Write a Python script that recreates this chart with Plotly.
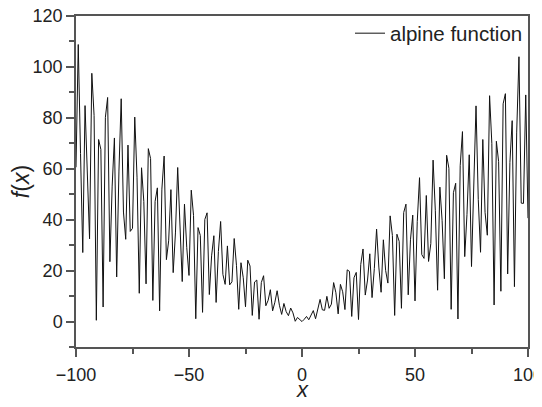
import plotly.graph_objects as go

# Sample grid (integer x from -100 to 100)
x_left = list(range(-100, 0))
x_right = list(range(0, 101))

# f(x), x = -100 .. -1
f_left = [60.6, 108.8, 66.0, 27.1, 84.8, 55.4, 32.5, 97.5, 80.9, 0.5,
          71.5, 67.6, 5.7, 80.2, 88.0, 23.5, 53.2, 72.1, 17.5, 59.1,
          87.5, 43.0, 32.3, 69.3, 35.4, 36.6, 80.3, 56.7, 11.1, 60.4,
          47.2, 14.8, 67.9, 64.0, 8.3, 47.2, 52.5, 4.2, 52.0, 65.0,
          24.3, 31.7, 51.8, 19.2, 34.8, 60.5, 35.6, 15.7, 46.1, 29.1,
          18.1, 51.6, 41.7, 1.1, 36.9, 33.8, 3.6, 40.1, 42.7, 10.6,
          25.8, 33.7, 7.5, 27.5, 39.3, 18.5, 14.6, 29.7, 14.4, 15.6,
          32.6, 22.1, 4.8, 23.1, 17.2, 5.8, 24.1, 21.8, 2.4, 15.5,
          16.3, 0.9, 15.3, 18.0, 6.2, 8.3, 12.5, 4.2, 7.6, 12.1,
          6.4, 2.8, 7.1, 3.9, 2.3, 5.3, 3.4, 0.1, 1.6, 0.7]

# f(x), x = 0 .. 100
f_right = [0.0, 0.9, 2.0, 0.7, 2.6, 4.3, 1.1, 5.3, 8.7, 4.6,
           4.4, 9.9, 5.2, 6.8, 15.3, 11.3, 3.0, 14.6, 11.7, 4.7,
           20.3, 19.7, 2.0, 17.2, 19.3, 0.8, 22.4, 28.5, 10.4, 16.3,
           26.6, 9.4, 20.8, 36.3, 21.4, 11.5, 32.1, 20.1, 15.1, 41.5,
           33.8, 2.4, 34.3, 31.5, 5.2, 42.8, 46.1, 10.5, 32.1, 41.8,
           8.1, 39.3, 56.5, 26.3, 24.8, 49.5, 23.6, 30.6, 63.4, 43.5,
           12.3, 52.8, 39.6, 16.8, 65.3, 60.2, 4.8, 50.6, 54.3, 1.0,
           61.2, 74.6, 25.5, 42.1, 65.5, 21.6, 50.6, 84.7, 47.9, 27.2,
           71.5, 42.9, 33.9, 88.7, 70.0, 6.5, 70.8, 62.8, 11.9, 85.5,
           89.5, 18.7, 62.5, 78.9, 13.7, 74.4, 104.0, 46.5, 46.4, 89.0,
           40.6]

x_vals = x_left + x_right
f_vals = f_left + f_right

x_ticks = [-100, -50, 0, 50, 100]
y_ticks = [0, 20, 40, 60, 80, 100, 120]

FONT = 'Liberation Sans, Arial, sans-serif'
AXIS_COLOR = '#555555'
TEXT_COLOR = '#222222'

fig = go.Figure()

fig.add_trace(go.Scatter(
    x=x_vals, y=f_vals,
    mode='lines',
    name='alpine function',
    line=dict(color='#111111', width=1),
))

axis_common = dict(
    showline=True, linecolor=AXIS_COLOR, linewidth=1.5, mirror=True,
    showgrid=False, zeroline=False, automargin=False,
    ticks='outside', ticklen=8, tickwidth=1.5, tickcolor=AXIS_COLOR,
    ticklabeloverflow='allow',
    tickfont=dict(size=18, color=TEXT_COLOR, family=FONT),
)

fig.update_xaxes(
    range=[-100, 100], tickvals=x_ticks,
    minor=dict(tickvals=[-75, -25, 25, 75], ticks='outside', ticklen=5,
               tickwidth=1.5, tickcolor=AXIS_COLOR),
    ticklabelstandoff=3,
    **axis_common,
)
fig.update_yaxes(
    range=[-10, 120], tickvals=y_ticks,
    minor=dict(tickvals=[-10, 10, 30, 50, 70, 90, 110], ticks='outside', ticklen=5,
               tickwidth=1.5, tickcolor=AXIS_COLOR),
    title=dict(text='<i>f</i>(<i>x</i>)', font=dict(size=23, color=TEXT_COLOR, family=FONT), standoff=0),
    **axis_common,
)

# x axis title sits at the very bottom, under the tick labels
fig.add_annotation(
    text='<i>x</i>', xref='paper', yref='paper', x=0.5, y=-52 / 331,
    xanchor='center', yanchor='bottom', height=16, valign='middle',
    showarrow=False,
    font=dict(size=22, color=TEXT_COLOR, family=FONT),
)

# page body adds an 8px margin, so the figure is sized to fit the window
fig.update_layout(
    width=526, height=391,
    margin=dict(l=68, r=6, t=8, b=52, autoexpand=False),
    paper_bgcolor='white', plot_bgcolor='white',
    showlegend=True,
    legend=dict(x=1, y=1.008, xanchor='right', yanchor='top',
                bgcolor='rgba(0,0,0,0)', borderwidth=0,
                font=dict(size=20.5, color=TEXT_COLOR, family=FONT)),
    font=dict(family=FONT),
)

fig.write_html('out.html')
